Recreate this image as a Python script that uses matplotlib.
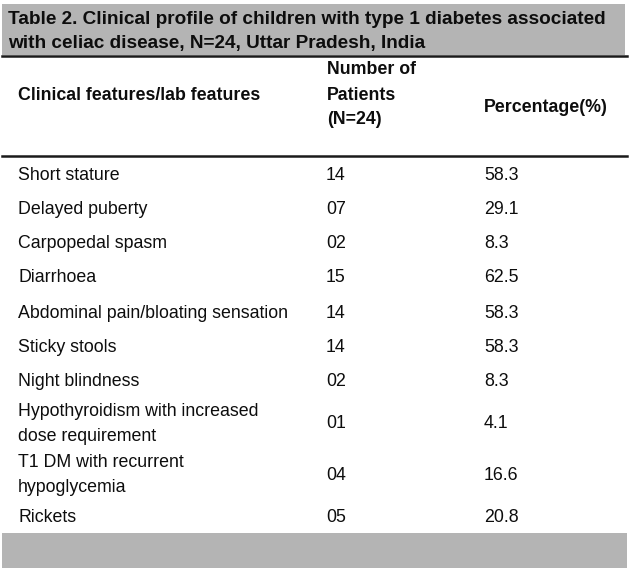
import matplotlib
matplotlib.use("Agg")
import matplotlib.pyplot as plt
from matplotlib.patches import Rectangle

# ── data ─────────────────────────────────────────────────────────────────────
title_lines = ["Table 2. Clinical profile of children with type 1 diabetes associated",
               "with celiac disease, N=24, Uttar Pradesh, India"]
header_feature = "Clinical features/lab features"
header_number = ["Number of", "Patients", "(N=24)"]
header_pct = "Percentage(%)"

features = ["Short stature", "Delayed puberty", "Carpopedal spasm", "Diarrhoea",
            "Abdominal pain/bloating sensation", "Sticky stools", "Night blindness",
            "Hypothyroidism with increased\ndose requirement",
            "T1 DM with recurrent\nhypoglycemia", "Rickets"]
n_patients = ["14", "07", "02", "15", "14", "14", "02", "01", "04", "05"]
percentages = ["58.3", "29.1", "8.3", "62.5", "58.3", "58.3", "8.3", "4.1", "16.6", "20.8"]

# row centres (pixels from top)
row_y = [175, 210, 244, 278, 313, 347, 382, 424, 475, 517]

# ── layout ───────────────────────────────────────────────────────────────────
W, H = 629, 581
fig = plt.figure(figsize=(W / 100, H / 100), dpi=100)
ax = fig.add_axes([0, 0, 1, 1])
ax.set_xlim(0, W)
ax.set_ylim(H, 0)
ax.axis("off")

fonts = ["Liberation Sans Narrow", "Liberation Sans", "DejaVu Sans"]
gray = "#b4b4b4"
ink = "#0d0d0d"
fs = 12.8

# title band
ax.add_patch(Rectangle((2, 4), 623, 51, facecolor=gray, edgecolor="none"))
ax.plot([2, 627], [56, 56], color="#1a1a1a", lw=1.8)
for i, line in enumerate(title_lines):
    ax.text(8, 19 + 24.5 * i, line, fontsize=13.7, fontweight="bold",
            family=fonts, va="center", ha="left", color=ink)

# header
ax.text(18, 95, header_feature, fontsize=fs, fontweight="bold", family=fonts,
        va="center", color=ink)
for i, line in enumerate(header_number):
    ax.text(327, 70 + 25 * i, line, fontsize=fs, fontweight="bold", family=fonts,
            va="center", color=ink)
ax.text(484, 107, header_pct, fontsize=fs, fontweight="bold", family=fonts,
        va="center", color=ink)
ax.plot([2, 627], [155.5, 155.5], color="#1a1a1a", lw=1.8)

# body rows
for y, feat, n, p in zip(row_y, features, n_patients, percentages):
    ax.text(18, y, feat, fontsize=fs, family=fonts, va="center",
            linespacing=1.55, color=ink)
    ax.text(326, y, n, fontsize=fs, family=fonts, va="center", color=ink)
    ax.text(484, y, p, fontsize=fs, family=fonts, va="center", color=ink)

# bottom band
ax.add_patch(Rectangle((2, 533), 625, 35, facecolor=gray, edgecolor="none"))

fig.savefig("out.png", dpi=100, facecolor="white")
